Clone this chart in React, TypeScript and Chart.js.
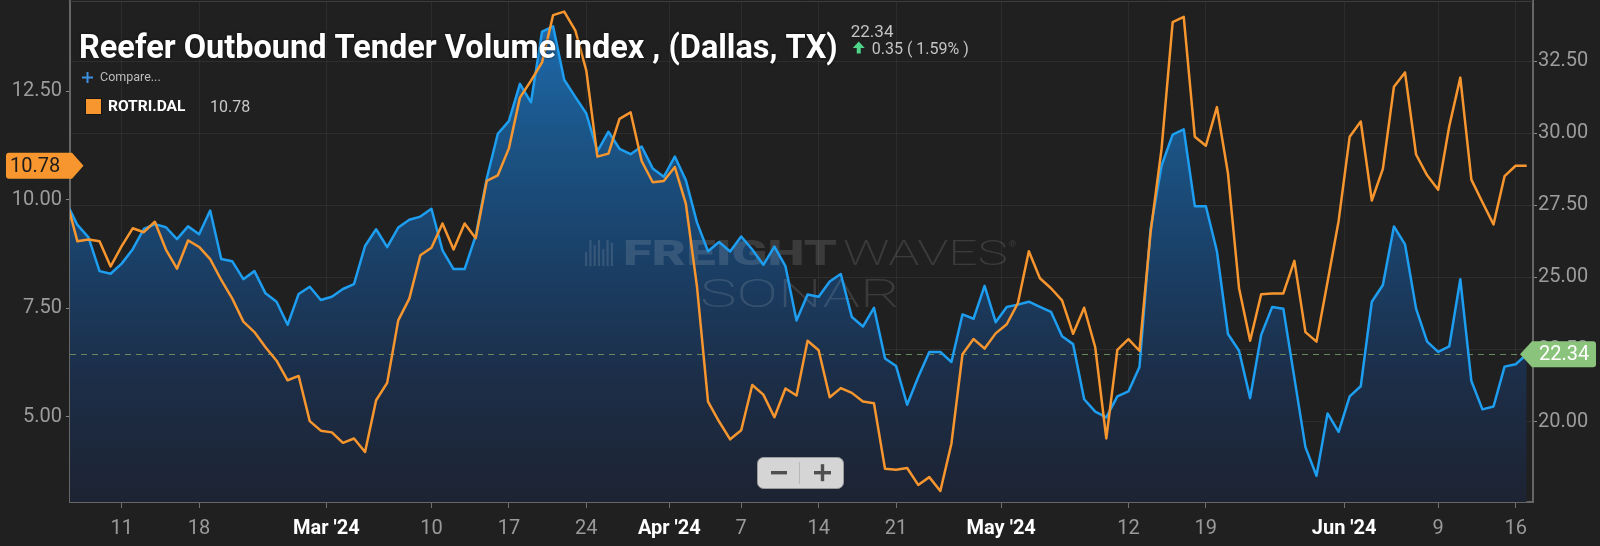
import React, { useEffect, useRef } from "react";
import { Chart, registerables } from "chart.js";

Chart.register(...registerables);

// ---- data (daily, starting 2024-02-06) ----
const seriesStart = "2024-02-06";
const volumeIndex = [
  27.6, 26.82, 26.39, 25.22, 25.13, 25.48, 25.98, 26.68, 26.85, 26.74,
  26.33, 26.77, 26.5, 27.32, 25.64, 25.56, 24.94, 25.22, 24.45, 24.16,
  23.36, 24.43, 24.68, 24.22, 24.33, 24.6, 24.77, 26.09, 26.67, 26.05,
  26.73, 27.0, 27.11, 27.38, 25.94, 25.29, 25.29, 26.44, 28.43, 29.98,
  30.42, 31.71, 31.07, 33.52, 33.7, 31.85, 31.26, 30.68, 29.37, 30.05,
  29.46, 29.27, 29.54, 28.78, 28.49, 29.19, 28.37, 26.91, 25.91, 26.23,
  25.9, 26.42, 25.97, 25.44, 26.07, 25.39, 23.51, 24.41, 24.33, 24.86,
  25.12, 23.63, 23.3, 23.95, 22.19, 21.93, 20.59, 21.55, 22.42, 22.42,
  22.07, 23.72, 23.57, 24.71, 23.45, 23.98, 24.06, 24.16, 23.98, 23.81,
  22.96, 22.69, 20.78, 20.35, 20.15, 20.88, 21.05, 21.9, 26.67, 28.88,
  29.95, 30.13, 27.47, 27.47, 25.91, 23.04, 22.46, 20.82, 23.01, 23.98,
  23.92, 21.52, 19.12, 18.13, 20.29, 19.65, 20.88, 21.23, 24.16, 24.74,
  26.77, 26.15, 23.92, 22.78, 22.42, 22.61, 24.94, 21.41, 20.43, 20.53,
  21.91, 21.99, 22.34,
];
const rejectionIndex = [
  10.0, 9.04, 9.08, 9.04, 8.46, 8.93, 9.34, 9.25, 9.49, 8.85,
  8.41, 9.06, 8.91, 8.63, 8.15, 7.72, 7.19, 6.95, 6.6, 6.29,
  5.84, 5.94, 4.9, 4.68, 4.64, 4.4, 4.5, 4.19, 5.38, 5.78,
  7.22, 7.72, 8.72, 8.89, 9.45, 8.85, 9.45, 9.11, 10.43, 10.56,
  11.18, 12.35, 12.74, 13.16, 14.25, 14.33, 13.9, 12.97, 10.99, 11.06,
  11.86, 12.01, 10.89, 10.4, 10.43, 10.75, 9.9, 8.0, 5.35, 4.89,
  4.48, 4.69, 5.73, 5.51, 4.99, 5.65, 5.49, 6.75, 6.53, 5.45,
  5.66, 5.55, 5.35, 5.31, 3.8, 3.78, 3.82, 3.43, 3.61, 3.29,
  4.38, 6.44, 6.79, 6.57, 6.92, 7.13, 7.61, 8.81, 8.19, 7.96,
  7.68, 6.91, 7.51, 6.6, 4.5, 6.54, 6.79, 6.52, 9.24, 11.18,
  14.09, 14.21, 11.45, 11.24, 12.13, 10.6, 7.96, 6.75, 7.82, 7.84,
  7.84, 8.59, 6.95, 6.73, 8.11, 9.51, 11.45, 11.8, 9.98, 10.71,
  12.6, 12.93, 11.04, 10.56, 10.23, 11.69, 12.81, 10.46, 9.94, 9.43,
  10.54, 10.78, 10.78,
];
// tick positions in days since seriesStart
const weekTickDays = [5, 12, 33, 40, 47, 61, 68, 75, 96, 103, 124, 131];
const weekTickLabels = ["11", "18", "10", "17", "24", "7", "14", "21", "12", "19", "9", "16"];
const monthTickDays = [23.5, 54.5, 84.5, 115.5];
const monthTickLabels = ["Mar '24", "Apr '24", "May '24", "Jun '24"];
const leftTickValues = [5, 7.5, 10, 12.5];
const rightTickValues = [20, 22.5, 25, 27.5, 30, 32.5];

const titleText = "Reefer Outbound Tender Volume Index , (Dallas, TX)";
const compareText = "Compare...";
const legendSymbol = "ROTRI.DAL";

const BG = "#202020";
const BLUE = "#1e9ef0";
const ORANGE = "#f7962e";
const GREEN_TAG = "#8ac37b";
const FONT = "Roboto";

const xTickDays = [...weekTickDays, ...monthTickDays];
const xTickText = [...weekTickLabels, ...monthTickLabels];
const isMonthTick = (v: number) => monthTickDays.some((d) => Math.abs(d - v) < 1e-6);
const xLabel = (v: number) => {
  const i = xTickDays.findIndex((d) => Math.abs(d - v) < 1e-6);
  return i >= 0 ? xTickText[i] : "";
};

function stretchText(c: CanvasRenderingContext2D, text: string, x: number, y: number, w: number, font: string) {
  c.font = font;
  const m = c.measureText(text).width;
  c.save();
  c.translate(x, y);
  c.scale(w / m, 1);
  c.fillText(text, 0, 0);
  c.restore();
}

const noPad = (s: any) => {
  s.paddingTop = 0;
  s.paddingBottom = 0;
  s.paddingLeft = 0;
  s.paddingRight = 0;
};

const overlayPlugin = {
  id: "overlay",
  beforeDatasetsDraw(chart: any) {
    const { ctx, chartArea: a, scales } = chart;
    ctx.save();
    // top frame
    ctx.strokeStyle = "#3c3c3c";
    ctx.lineWidth = 1;
    ctx.beginPath();
    ctx.moveTo(a.left, a.top + 0.5);
    ctx.lineTo(a.right, a.top + 0.5);
    ctx.stroke();

    // watermark
    ctx.fillStyle = "rgba(230,230,230,0.14)";
    ctx.textBaseline = "alphabetic";
    const bars = [0.55, 1, 0.8, 1, 0.65, 1, 0.9];
    bars.forEach((h, i) => {
      const bx = 585 + i * 4.3;
      ctx.fillRect(bx, 266 - 26 * h, 2.2, 26 * h);
    });
    stretchText(ctx, "FREIGHT", 623, 265, 214, `900 35px ${FONT}`);
    stretchText(ctx, "WAVES", 843, 265, 165, `200 35px ${FONT}`);
    ctx.font = `9px ${FONT}`;
    ctx.fillText("®", 1009, 247);
    stretchText(ctx, "SONAR", 700, 307, 200, `200 38px ${FONT}`);

    // dashed last-value line
    const last = volumeIndex.length - 1;
    const yy = Math.round(scales.y1.getPixelForValue(volumeIndex[last])) + 0.5;
    ctx.setLineDash([6, 5]);
    ctx.strokeStyle = "#668a5e";
    ctx.lineWidth = 1;
    ctx.beginPath();
    ctx.moveTo(a.left, yy);
    ctx.lineTo(scales.x.getPixelForValue(last), yy);
    ctx.stroke();
    ctx.restore();
  },
  afterDraw(chart: any) {
    const { ctx, scales } = chart;
    ctx.save();
    ctx.textBaseline = "alphabetic";
    ctx.textAlign = "left";

    // title
    ctx.font = `bold 30px ${FONT}`;
    const w30 = ctx.measureText(titleText).width;
    const fs = (30 * 759) / w30;
    ctx.font = `bold ${fs}px ${FONT}`;
    ctx.shadowColor = "rgba(0,0,0,0.7)";
    ctx.shadowBlur = 3;
    ctx.fillStyle = "#ffffff";
    ctx.fillText(titleText, 79, 57.5);
    const titleEnd = 79 + ctx.measureText(titleText).width;
    ctx.shadowBlur = 0;
    ctx.shadowColor = "transparent";

    const n = volumeIndex.length;
    const lastV = volumeIndex[n - 1];
    const prevV = volumeIndex[n - 2];
    const chg = lastV - prevV;
    const pct = (chg / prevV) * 100;
    const qx = titleEnd + 13;
    ctx.fillStyle = "#c4c4c4";
    ctx.font = `17px ${FONT}`;
    ctx.fillText(lastV.toFixed(2), qx, 37);
    // green arrow
    ctx.fillStyle = "#4fd58a";
    ctx.beginPath();
    ctx.moveTo(qx + 8, 41.5);
    ctx.lineTo(qx + 14, 48);
    ctx.lineTo(qx + 2, 48);
    ctx.closePath();
    ctx.fill();
    ctx.fillRect(qx + 6, 47.5, 4, 6);
    ctx.fillStyle = "#c4c4c4";
    ctx.font = `16px ${FONT}`;
    ctx.fillText(`${chg.toFixed(2)} ( ${pct.toFixed(2)}% )`, qx + 21, 53.5);

    // compare
    ctx.strokeStyle = "#3d8fe0";
    ctx.lineWidth = 2;
    ctx.beginPath();
    ctx.moveTo(82, 77.5);
    ctx.lineTo(93, 77.5);
    ctx.moveTo(87.5, 72);
    ctx.lineTo(87.5, 83);
    ctx.stroke();
    ctx.fillStyle = "#bdbdbd";
    ctx.font = `12.5px ${FONT}`;
    ctx.fillText(compareText, 100, 81);

    // legend
    ctx.fillStyle = ORANGE;
    ctx.fillRect(85, 98, 17, 17);
    ctx.strokeStyle = "#151515";
    ctx.lineWidth = 1;
    ctx.strokeRect(85.5, 98.5, 16, 16);
    ctx.fillStyle = "#ffffff";
    ctx.font = `bold 15.5px ${FONT}`;
    ctx.fillText(legendSymbol, 108, 111);
    ctx.fillStyle = "#c8c8c8";
    ctx.font = `16px ${FONT}`;
    ctx.fillText(rejectionIndex[rejectionIndex.length - 1].toFixed(2), 210, 111.5);

    // zoom buttons
    ctx.fillStyle = "#d5d5d5";
    ctx.strokeStyle = "#9a9a9a";
    ctx.beginPath();
    (ctx as any).roundRect(757.5, 457.5, 86, 31, 6);
    ctx.fill();
    ctx.stroke();
    ctx.strokeStyle = "#b8b8b8";
    ctx.beginPath();
    ctx.moveTo(799.5, 462);
    ctx.lineTo(799.5, 484);
    ctx.stroke();
    ctx.fillStyle = "#4f4f4f";
    ctx.fillRect(771, 471, 16, 3.4);
    ctx.fillRect(814, 471, 17, 3.4);
    ctx.fillRect(820.8, 464.2, 3.4, 17);

    // left tag (last rejection value)
    const lv = rejectionIndex[rejectionIndex.length - 1];
    const ly = scales.y.getPixelForValue(lv);
    ctx.fillStyle = ORANGE;
    ctx.beginPath();
    ctx.moveTo(9, ly - 13);
    ctx.lineTo(72, ly - 13);
    ctx.lineTo(83.5, ly);
    ctx.lineTo(72, ly + 13);
    ctx.lineTo(9, ly + 13);
    ctx.quadraticCurveTo(6, ly + 13, 6, ly + 10);
    ctx.lineTo(6, ly - 10);
    ctx.quadraticCurveTo(6, ly - 13, 9, ly - 13);
    ctx.fill();
    ctx.fillStyle = "#1c1c1c";
    ctx.font = `20px ${FONT}`;
    ctx.textBaseline = "middle";
    ctx.fillText(lv.toFixed(2), 10, ly + 1);

    // right tag (last volume value)
    const ry = scales.y1.getPixelForValue(lastV);
    ctx.fillStyle = GREEN_TAG;
    ctx.beginPath();
    ctx.moveTo(1520, ry);
    ctx.lineTo(1532, ry - 13);
    ctx.lineTo(1593, ry - 13);
    ctx.quadraticCurveTo(1596, ry - 13, 1596, ry - 10);
    ctx.lineTo(1596, ry + 10);
    ctx.quadraticCurveTo(1596, ry + 13, 1593, ry + 13);
    ctx.lineTo(1532, ry + 13);
    ctx.closePath();
    ctx.fill();
    ctx.fillStyle = "#ffffff";
    ctx.fillText(lastV.toFixed(2), 1539, ry + 1);
    ctx.restore();
  },
};

export default function App() {
  const ref = useRef<HTMLCanvasElement>(null);
  useEffect(() => {
    document.body.style.margin = "0";
    document.body.style.background = BG;
    const canvas = ref.current;
    if (!canvas) return;
    const chart = new Chart(canvas, {
      type: "line",
      data: {
        datasets: [
          {
            label: legendSymbol,
            data: rejectionIndex.map((v, i) => ({ x: i, y: v })),
            yAxisID: "y",
            borderColor: ORANGE,
            borderWidth: 2.5,
            pointRadius: 0,
            tension: 0,
            fill: false,
            borderJoinStyle: "round",
            order: 0,
          },
          {
            label: "ROTVI.DAL",
            data: volumeIndex.map((v, i) => ({ x: i, y: v })),
            yAxisID: "y1",
            borderColor: BLUE,
            borderWidth: 2.5,
            pointRadius: 0,
            tension: 0,
            fill: "start",
            borderJoinStyle: "round",
            order: 1,
            backgroundColor: (context: any) => {
              const { ctx, chartArea } = context.chart;
              if (!chartArea) return "rgba(27,80,130,0.8)";
              const g = ctx.createLinearGradient(0, chartArea.top, 0, chartArea.bottom);
              g.addColorStop(0, "#1e6fb5");
              g.addColorStop(0.25, "#1b5689");
              g.addColorStop(0.5, "#1a4169");
              g.addColorStop(0.75, "#1c2e48");
              g.addColorStop(1, "#1d2332");
              return g;
            },
          },
        ],
      },
      options: {
        responsive: false,
        animation: false,
        events: [],
        layout: { padding: { top: 1, left: 0, right: 0, bottom: 0 }, autoPadding: false },
        plugins: {
          legend: { display: false },
          tooltip: { enabled: false },
          filler: { drawTime: "beforeDatasetsDraw" },
        },
        scales: {
          x: {
            type: "linear",
            min: 0.33,
            max: 132.57,
            bounds: "data",
            afterBuildTicks: (s: any) => {
              s.ticks = xTickDays.slice().sort((a, b) => a - b).map((v) => ({ value: v }));
            },
            afterFit: (s: any) => {
              s.height = 44;
              noPad(s);
            },
            grid: { color: "rgba(255,255,255,0.055)", tickColor: "#707070", tickLength: 6, lineWidth: 1 },
            border: { color: "#666666", width: 2 },
            ticks: {
              autoSkip: false,
              maxRotation: 0,
              padding: 9,
              callback: (v: any) => xLabel(Number(v)),
              color: (c: any) => (c.tick && isMonthTick(c.tick.value) ? "#ffffff" : "#9a9a9a"),
              font: (c: any) => ({
                family: FONT,
                size: 20,
                weight: c.tick && isMonthTick(c.tick.value) ? "bold" : "normal",
              }),
            },
          },
          y: {
            type: "linear",
            position: "left",
            min: 3.037,
            max: 14.574,
            bounds: "data",
            afterBuildTicks: (s: any) => {
              s.ticks = leftTickValues.map((v) => ({ value: v }));
            },
            afterFit: (s: any) => {
              s.width = 70;
              noPad(s);
            },
            grid: { drawOnChartArea: false, tickLength: 4, tickColor: "#888888" },
            border: { color: "#666666", width: 2 },
            ticks: {
              padding: 4,
              color: "#9c9c9c",
              font: { family: FONT, size: 20 },
              callback: (v: any) => Number(v).toFixed(2),
            },
          },
          y1: {
            type: "linear",
            position: "right",
            min: 17.22,
            max: 34.58,
            bounds: "data",
            afterBuildTicks: (s: any) => {
              s.ticks = rightTickValues.map((v) => ({ value: v }));
            },
            afterFit: (s: any) => {
              s.width = 67;
              noPad(s);
            },
            grid: { color: "rgba(255,255,255,0.06)", tickLength: 4, tickColor: "#888888" },
            border: { color: "#666666", width: 2 },
            ticks: {
              padding: 1,
              color: "#9c9c9c",
              font: { family: FONT, size: 20 },
              callback: (v: any) => Number(v).toFixed(2),
            },
          },
        },
      },
      plugins: [overlayPlugin],
    } as any);
    return () => chart.destroy();
  }, []);
  return (
    <div style={{ width: 1600, height: 546, background: BG, position: "relative" }} data-start={seriesStart}>
      <canvas ref={ref} width={1600} height={546} style={{ display: "block", width: 1600, height: 546 }} />
    </div>
  );
}
